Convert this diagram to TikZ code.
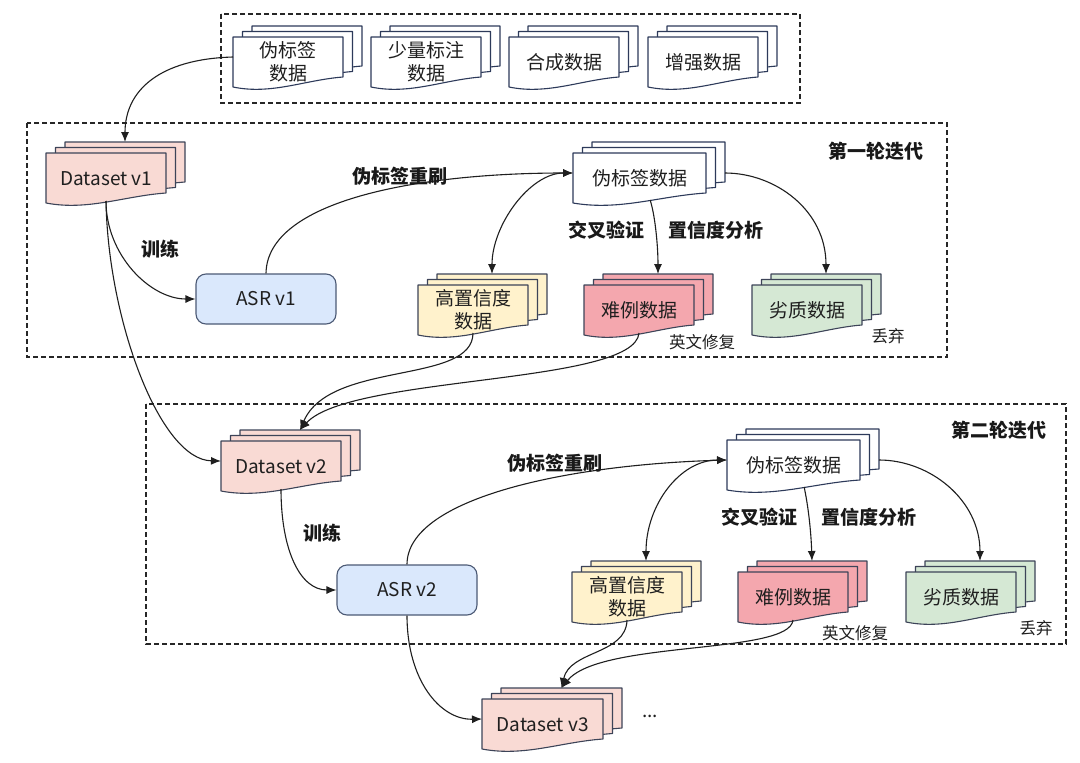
\documentclass[tikz,border=0pt]{standalone}
\usepackage{fontspec}
\setmainfont{Noto Sans CJK SC}
\usetikzlibrary{arrows.meta}
\definecolor{pinkF}{HTML}{F9DAD4}
\definecolor{yelF}{HTML}{FFF2CC}
\definecolor{redF}{HTML}{F4A7AE}
\definecolor{grnF}{HTML}{D5E8D4}
\definecolor{asrF}{HTML}{DAE8FC}
\definecolor{asrD}{HTML}{4C5A75}
\definecolor{docD}{HTML}{3D4458}
\definecolor{navyD}{HTML}{2D3A5A}
\tikzset{
  docline/.style={line width=1.1pt, line join=round},
  doctext/.style={inner sep=0pt, align=center, font=\fontsize{19}{23}\selectfont, text=black!88},
  lab/.style={inner sep=0pt, font=\fontsize{19}{22}\selectfont\bfseries, text=black!90},
  note/.style={inner sep=0pt, font=\fontsize{16.5}{19}\selectfont, text=black!88},
  conn/.style={line width=1.1pt, draw=black!88},
  arr/.style={conn, -{Latex[length=10pt,width=8pt]}},
  darr/.style={conn, {Latex[length=10pt,width=8pt]}-{Latex[length=10pt,width=8pt]}},
  frame/.style={draw=black!85, line width=1.3pt, dash pattern=on 5pt off 3pt},
  asr/.style={draw=asrD, fill=asrF, line width=1.1pt, rounded corners=10pt,
    minimum width=140, minimum height=50, inner sep=0pt,
    font=\fontsize{19}{23}\selectfont, text=black!88}
}
% #1 name, #2 x0, #3 y0, #4 width, #5 fill, #6 border, #7 text
\newcommand\mdoc[7]{%
  \foreach \k in {2,1,0}{%
    \filldraw[docline, draw=#6, fill=#5, shift={(9.5*\k,-5.5*\k)}]
      (#2,#3) -- (#2+#4,#3) -- (#2+#4,#3+40)
      .. controls (#2+0.65*#4,#3+43) and (#2+0.35*#4,#3+58) .. (#2,#3+50) -- cycle;
  }%
  \node[doctext, minimum width=#4, minimum height=50, anchor=north west] (#1) at (#2,#3) {#7};
  \coordinate (#1-top) at (#2+0.5*#4+19,#3-11);
  \coordinate (#1-bot) at (#2+0.5*#4,#3+48);
  \coordinate (#1-b2) at (#2+0.58*#4,#3+47);
  \coordinate (#1-l) at (#2,#3+20);
  \coordinate (#1-r) at (#2+#4+19,#3+20);
}
\begin{document}
\begin{tikzpicture}[x=1pt,y=-1pt]
\fill[white] (0,0) rectangle (1080,763);
\useasboundingbox (0,0) rectangle (1080,763);

% frames
\draw[frame] (221,14) rectangle (800,103);
\draw[frame] (27,123) rectangle (947,357);
\draw[frame] (146,404) rectangle (1066,644);

% top sources
\mdoc{tA}{233}{37}{110}{white}{navyD}{伪标签\\数据}
\mdoc{tB}{371}{37}{110}{white}{navyD}{少量标注\\数据}
\mdoc{tC}{509}{37}{110}{white}{navyD}{合成数据}
\mdoc{tD}{648}{37}{110}{white}{navyD}{增强数据}

% iteration 1
\mdoc{dsA}{46}{153}{120}{pinkF}{docD}{Dataset v1}
\mdoc{plA}{573}{153}{133}{white}{navyD}{伪标签数据}
\mdoc{hiA}{418}{285}{110}{yelF}{docD}{高置信度\\数据}
\mdoc{hardA}{584}{285}{110}{redF}{docD}{难例数据}
\mdoc{lowA}{752}{285}{110}{grnF}{docD}{劣质数据}
\node[asr] (asrA) at (266,299) {ASR v1};

% iteration 2
\mdoc{dsB}{221}{441}{120}{pinkF}{docD}{Dataset v2}
\mdoc{plB}{727}{440}{133}{white}{navyD}{伪标签数据}
\mdoc{hiB}{572}{572}{110}{yelF}{docD}{高置信度\\数据}
\mdoc{hardB}{738}{572}{110}{redF}{docD}{难例数据}
\mdoc{lowB}{906}{572}{110}{grnF}{docD}{劣质数据}
\node[asr] (asrB) at (407,590) {ASR v2};

% dataset v3
\mdoc{dsC}{482}{699}{121}{pinkF}{docD}{Dataset v3}

% connectors iteration 1
\draw[arr] (tA-l) .. controls (160,59) and (125,90) .. (dsA-top);
\draw[arr] (dsA-bot) .. controls (106,255) and (150,299) .. (asrA.west);
\draw[arr] (dsA-bot) .. controls (108,320) and (160,460) .. (dsB-l);
\draw[arr] (asrA.north) .. controls (267,200) and (420,173) .. (plA-l);
\draw[darr] (hiA-top) .. controls (492,225) and (530,173) .. (plA-l);
\draw[arr] (plA-b2) .. controls (655,215) and (658,245) .. (hardA-top);
\draw[arr] (plA-r) .. controls (775,173) and (826,210) .. (lowA-top);
\draw[arr] (hiA-bot) .. controls (473,385) and (330,360) .. (dsB-top);
\draw[arr] (hardA-bot) .. controls (635,385) and (350,375) .. (dsB-top);

% connectors iteration 2
\draw[arr] (dsB-bot) .. controls (281,550) and (300,590) .. (asrB.west);
\draw[arr] (asrB.north) .. controls (407,500) and (560,465) .. (plB-l);
\draw[darr] (hiB-top) .. controls (646,505) and (680,460) .. (plB-l);
\draw[arr] (plB-b2) .. controls (808,505) and (811,530) .. (hardB-top);
\draw[arr] (plB-r) .. controls (930,460) and (980,500) .. (lowB-top);
\draw[arr] (hiB-bot) .. controls (626,655) and (570,650) .. (dsC-top);
\draw[arr] (hardB-bot) .. controls (790,655) and (600,640) .. (dsC-top);
\draw[arr] (asrB.south) .. controls (407,680) and (440,720) .. (dsC-l);

% labels
\node[lab] (itA) at (876,151) {第一轮迭代};
\node[lab] (itB) at (999,430) {第二轮迭代};
\node[lab] (trA) at (160,249) {训练};
\node[lab] (trB) at (322,533) {训练};
\node[lab] (reA) at (400,176) {伪标签重刷};
\node[lab] (reB) at (555,463) {伪标签重刷};
\node[lab] (cvA) at (606,230) {交叉验证};
\node[lab] (cfA) at (716,230) {置信度分析};
\node[lab] (cvB) at (759,517) {交叉验证};
\node[lab] (cfB) at (869,517) {置信度分析};
\node[note] (fixA) at (702,342) {英文修复};
\node[note] (fixB) at (855,633) {英文修复};
\node[note] (dropA) at (888,336) {丢弃};
\node[note] (dropB) at (1036,628) {丢弃};
\node[doctext] (dots) at (650,716) {...};
\end{tikzpicture}
\end{document}
